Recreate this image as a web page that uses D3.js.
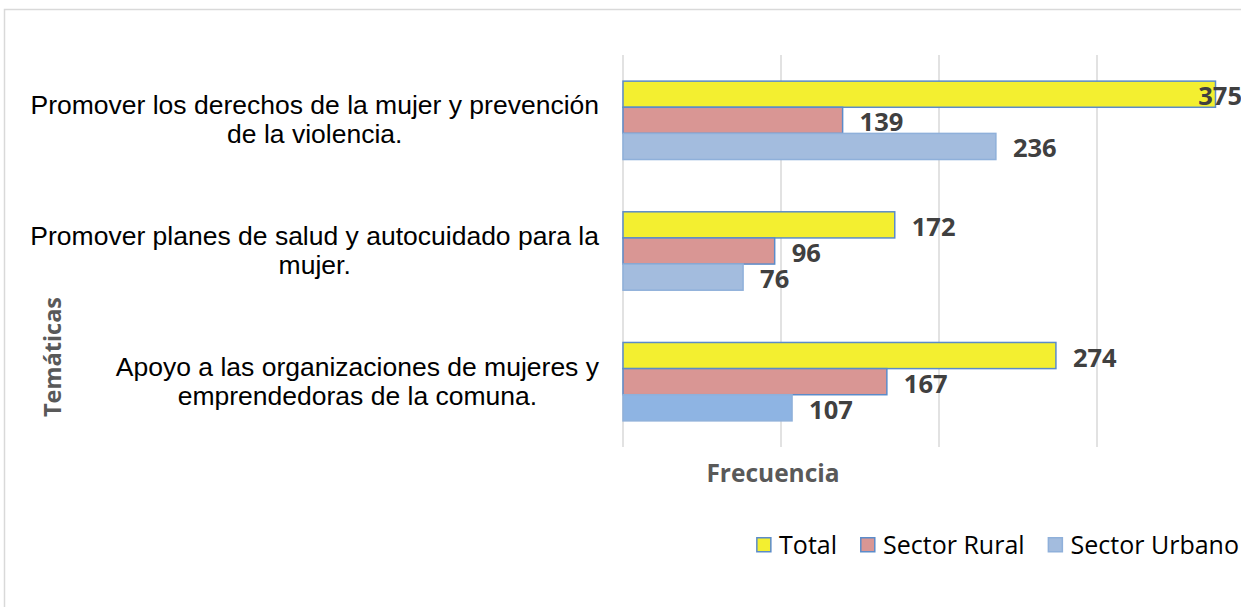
<!DOCTYPE html>
<html>
<head>
<meta charset="utf-8">
<script src="https://cdn.jsdelivr.net/npm/d3@7"></script>
<style>
    body { margin: 0; background: #fff; }
    #chart { width: 1241px; height: 607px; overflow: hidden; }
</style>
</head>
<body>
<div id="chart"></div>
<script>
// Data
const CATEGORIES = [
    ["Promover los derechos de la mujer y prevención", "de la violencia."],
    ["Promover planes de salud y autocuidado para la", "mujer."],
    ["Apoyo a las organizaciones de mujeres y", "emprendedoras de la comuna."]
];
const SERIES = ["Total", "Sector Rural", "Sector Urbano"];
const TOTAL = [375, 172, 274];
const RURAL = [139, 96, 167];
const URBANO = [236, 76, 107];
const X_TICKS = [0, 100, 200, 300, 400];

const FILL = ['#F3EF30', '#D99694', '#A3BCDE'];
const STROKE = ['#5B8BC9', '#5B8BC9', '#8FB0DA'];

const W = 1241, H = 607;
const margin = {top: 55, left: 623, bottom: 160};

let svg = d3.select('#chart')
    .append('svg')
    .attr('width', W)
    .attr('height', H);

// chart border
svg.append('rect')
    .attr('x', 4.5).attr('y', 9.5)
    .attr('width', W + 20).attr('height', H + 20)
    .attr('fill', 'none')
    .attr('stroke', '#D9D9D9')
    .attr('stroke-width', 1.5);

let x = d3.scaleLinear()
    .domain([0, 400])
    .range([margin.left, margin.left + 632]);

let y = d3.scaleBand()
    .domain(d3.range(CATEGORIES.length))
    .range([margin.top, H - margin.bottom])
    .paddingInner(0.4)
    .paddingOuter(0.2);

let ySub = d3.scaleBand()
    .domain(d3.range(SERIES.length))
    .range([0, y.bandwidth()]);

// Gridlines
svg.append('g')
    .selectAll('line')
    .data(X_TICKS)
    .join('line')
    .attr('x1', d => x(d)).attr('x2', d => x(d))
    .attr('y1', margin.top).attr('y2', H - margin.bottom)
    .attr('stroke', '#D9D9D9')
    .attr('stroke-width', 1.5);

// Bars
let values = [TOTAL, RURAL, URBANO];
let groups = svg.append('g')
    .selectAll('g')
    .data(CATEGORIES.map((c, i) => i))
    .join('g')
    .attr('transform', i => 'translate(0,' + y(i) + ')');

groups.selectAll('rect')
    .data(i => values.map((v, s) => ({s: s, v: v[i], c: i})))
    .join('rect')
    .attr('x', x(0))
    .attr('y', d => ySub(d.s))
    .attr('width', d => x(d.v) - x(0))
    .attr('height', ySub.bandwidth())
    .attr('fill', d => (d.s === 2 && d.c === 2) ? '#8EB4E3' : FILL[d.s])
    .attr('stroke', d => STROKE[d.s])
    .attr('stroke-width', 1.5);

// Data labels
groups.selectAll('text')
    .data(i => values.map((v, s) => ({s: s, v: v[i]})))
    .join('text')
    .attr('y', d => ySub(d.s) + ySub.bandwidth() / 2 + 11)
    .attr('font-family', 'Open Sans')
    .attr('font-weight', 'bold')
    .attr('font-size', 25.5)
    .attr('fill', '#404040')
    .text(d => d.v)
    .attr('x', function (d) {
        let tw = this.getComputedTextLength();
        return Math.min(x(d.v) + 17, W + 1 - tw);
    });

// Category labels (two lines, centred block, right aligned at the axis)
let catLabels = svg.append('g');
CATEGORIES.forEach(function (lines, i) {
    let g = catLabels.append('g');
    let cy = y(i) + y.bandwidth() / 2;
    let t = g.selectAll('text')
        .data(lines)
        .join('text')
        .attr('y', (d, k) => cy - (lines.length - 1) * 29 / 2 + 8.5 + k * 29)
        .attr('font-family', 'Liberation Sans, Arial')
        .attr('font-size', 26.5)
        .attr('fill', '#000')
        .attr('text-anchor', 'middle')
        .text(d => d);
    let maxW = d3.max(t.nodes(), n => n.getComputedTextLength());
    t.attr('x', 599 - maxW / 2);
});

// Axis titles
svg.append('text')
    .attr('x', 773)
    .attr('y', 482)
    .attr('text-anchor', 'middle')
    .attr('font-family', 'Open Sans')
    .attr('font-weight', 'bold')
    .attr('font-size', 24.5)
    .attr('fill', '#595959')
    .text('Frecuencia');

svg.append('text')
    .attr('transform', 'translate(61,357) rotate(-90)')
    .attr('text-anchor', 'middle')
    .attr('font-family', 'Open Sans')
    .attr('font-weight', 'bold')
    .attr('font-size', 23.5)
    .attr('fill', '#595959')
    .text('Temáticas');

// Legend, right aligned
let legend = svg.append('g');
let items = SERIES.map(function (name, s) {
    let t = legend.append('text')
        .attr('y', 554)
        .attr('font-family', 'Open Sans')
        .attr('font-size', 25)
        .attr('fill', '#000')
        .text(name);
    return {s: s, t: t, w: t.node().getComputedTextLength()};
});
let total = d3.sum(items, d => 23 + d.w) + 23 * (items.length - 1);
let lx = 1239 - total;
items.forEach(function (d) {
    legend.append('rect')
        .attr('x', lx + 0.75).attr('y', 537.75)
        .attr('width', 14).attr('height', 14)
        .attr('fill', FILL[d.s])
        .attr('stroke', STROKE[d.s])
        .attr('stroke-width', 1.5);
    d.t.attr('x', lx + 23);
    lx += 23 + d.w + 23;
});
</script>
</body>
</html>
